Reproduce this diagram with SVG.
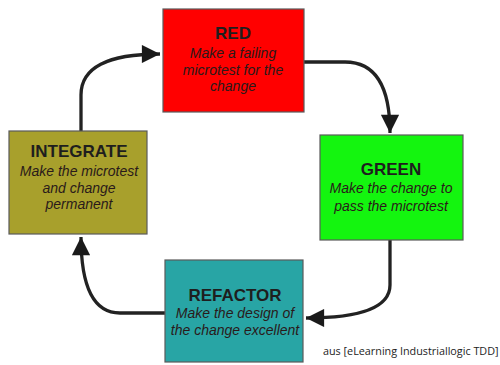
<svg xmlns="http://www.w3.org/2000/svg" width="500" height="365" viewBox="0 0 500 365">
<defs>
<marker id="ah" viewBox="0 0 10 10" refX="10" refY="5" markerWidth="6" markerHeight="5.5" orient="auto" markerUnits="strokeWidth">
<path d="M0,0 L10,5 L0,10 z" fill="#1a1a1a"/>
</marker>
<style>
.box{stroke:#5a5a5a;stroke-width:1.2}
.t{font-family:"Liberation Sans",Arial,sans-serif;font-weight:bold;font-size:17px;fill:#1e1e1e;text-anchor:middle}
.s{font-family:"Liberation Sans",Arial,sans-serif;font-style:italic;font-size:14px;fill:#2a1a1a;text-anchor:middle}
.c{fill:none;stroke:#222;stroke-width:3.3;marker-end:url(#ah)}
.cap{font-family:"Open Sans","DejaVu Sans",sans-serif;font-size:10.8px;fill:#222}
</style>
</defs>
<g id="connectors">
<path class="c" d="M81,131 L81,95 Q81,54 160,54"/>
<path class="c" d="M304,62 L345,62 Q390,62 390,133"/>
<path class="c" d="M390,240 L390,285 Q390,318 306,318"/>
<path class="c" d="M165,313 L120,313 Q81,313 81,237"/>
</g>
<g id="red">
<rect class="box" x="163" y="9" width="141" height="103" fill="#ff0000"/>
<text class="t" x="233" y="39">RED</text>
<text class="s" x="233" y="58">Make a failing</text>
<text class="s" x="233" y="75">microtest for the</text>
<text class="s" x="233" y="91">change</text>
</g>
<g id="green">
<rect class="box" x="320" y="135" width="143" height="105" fill="#14f50f"/>
<text class="t" x="391" y="175">GREEN</text>
<text class="s" x="391" y="193">Make the change to</text>
<text class="s" x="391" y="211">pass the microtest</text>
</g>
<g id="refactor">
<rect class="box" x="165" y="260" width="138" height="102" fill="#28a5a5"/>
<text class="t" x="235" y="301">REFACTOR</text>
<text class="s" x="235" y="318">Make the design of</text>
<text class="s" x="235" y="335">the change excellent</text>
</g>
<g id="integrate">
<rect class="box" x="9" y="131" width="138" height="103" fill="#a8a02c"/>
<text class="t" x="79" y="157">INTEGRATE</text>
<text class="s" x="79" y="176">Make the microtest</text>
<text class="s" x="79" y="193">and change</text>
<text class="s" x="79" y="209">permanent</text>
</g>
<text class="cap" x="323" y="355">aus [eLearning Industriallogic TDD]</text>
</svg>
